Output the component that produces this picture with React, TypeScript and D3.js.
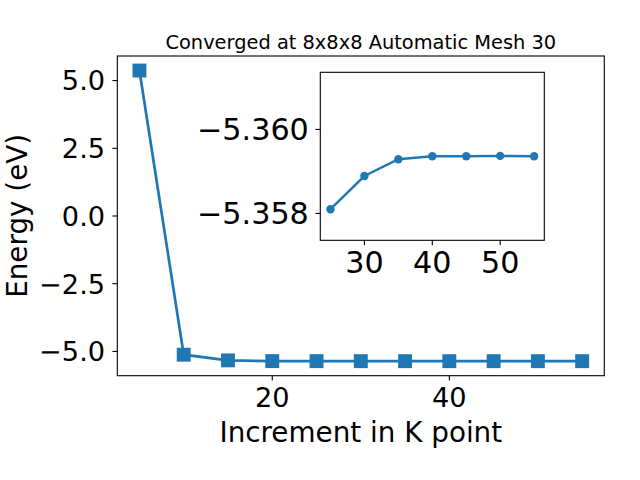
import React from "react";
import * as d3 from "d3";

const kPoints = [5, 10, 15, 20, 25, 30, 35, 40, 45, 50, 55];
const energies = [5.37, -5.12, -5.33, -5.3575, -5.3581, -5.35889, -5.35929, -5.35936, -5.35936, -5.35937, -5.35936];
const insetK = [25, 30, 35, 40, 45, 50, 55];
const insetE = [-5.3581, -5.35889, -5.35929, -5.35936, -5.35936, -5.35937, -5.35936];
const mainXTicks = [20, 40];
const mainYTicks = [5.0, 2.5, 0.0, -2.5, -5.0];
const insetXTicks = [30, 40, 50];
const insetYTicks = [-5.36, -5.358];
const insetYLim = [-5.35736, -5.36136];

const W = 640, H = 480;
const C = "#1f77b4";
const FONT = "DejaVu Sans";
const fmtMinus = (s: string) => s.replace("-", "\u2212");

export default function App() {
  const L = 117.3, R = 604.3, T = 56, B = 375.7;
  const x = d3.scaleLinear().domain([2.5, 57.5]).range([L, R]);
  const ext = d3.extent(energies) as [number, number];
  const m = (ext[1] - ext[0]) * 0.05;
  const y = d3.scaleLinear().domain([ext[0] - m, ext[1] + m]).range([B, T]);
  const line = d3.line<number>().x((_, i) => x(kPoints[i])).y((d) => y(d));

  const iL = 320.3, iR = 544.3, iT = 72.3, iB = 240.3;
  const ix = d3.scaleLinear().domain([23.5, 56.5]).range([iL, iR]);
  const iy = d3.scaleLinear().domain(insetYLim).range([iB, iT]);
  const iline = d3.line<number>().x((_, i) => ix(insetK[i])).y((d) => iy(d));

  const ms = 13.9;
  const tickFs = 27.2;
  const insetFs = 30.2;
  return (
    <svg width={W} height={H} style={{ position: "absolute", left: 0, top: 0 }} fontFamily={FONT}>
      <rect width={W} height={H} fill="white" />
      <text x={(L + R) / 2} y={49} textAnchor="middle" fontSize={19.4}>Converged at 8x8x8 Automatic Mesh 30</text>
      <path d={line(energies) || ""} fill="none" stroke={C} strokeWidth={2.7} />
      {energies.map((e, i) => (
        <rect key={i} x={x(kPoints[i]) - ms / 2} y={y(e) - ms / 2} width={ms} height={ms} fill={C} />
      ))}
      <rect x={L} y={T} width={R - L} height={B - T} fill="none" stroke="black" strokeWidth={1.1} />
      {mainXTicks.map((t) => (
        <g key={t}>
          <line x1={x(t)} x2={x(t)} y1={B} y2={B + 4.9} stroke="black" strokeWidth={1.1} />
          <text x={x(t)} y={407} textAnchor="middle" fontSize={tickFs}>{t}</text>
        </g>
      ))}
      {mainYTicks.map((t) => (
        <g key={t}>
          <line x1={L - 4.9} x2={L} y1={y(t)} y2={y(t)} stroke="black" strokeWidth={1.1} />
          <text x={L - 12.2} y={y(t)} dy="0.36em" textAnchor="end" fontSize={tickFs}>{fmtMinus(t.toFixed(1))}</text>
        </g>
      ))}
      <text x={(L + R) / 2} y={441.5} textAnchor="middle" fontSize={27.8}>Increment in K point</text>
      <text transform={`translate(26.5,${(T + B) / 2}) rotate(-90)`} textAnchor="middle" fontSize={27.8}>Energy (eV)</text>

      <rect x={iL} y={iT} width={iR - iL} height={iB - iT} fill="white" />
      <path d={iline(insetE) || ""} fill="none" stroke={C} strokeWidth={2.4} />
      {insetE.map((e, i) => (
        <circle key={i} cx={ix(insetK[i])} cy={iy(e)} r={4.2} fill={C} />
      ))}
      <rect x={iL} y={iT} width={iR - iL} height={iB - iT} fill="none" stroke="black" strokeWidth={1.1} />
      {insetXTicks.map((t) => (
        <g key={t}>
          <line x1={ix(t)} x2={ix(t)} y1={iB} y2={iB + 4.9} stroke="black" strokeWidth={1.1} />
          <text x={ix(t)} y={272.7} textAnchor="middle" fontSize={insetFs}>{t}</text>
        </g>
      ))}
      {insetYTicks.map((t) => (
        <g key={t}>
          <line x1={iL - 4.9} x2={iL} y1={iy(t)} y2={iy(t)} stroke="black" strokeWidth={1.1} />
          <text x={iL - 11.5} y={iy(t)} dy="0.36em" textAnchor="end" fontSize={insetFs}>{fmtMinus(t.toFixed(3))}</text>
        </g>
      ))}
    </svg>
  );
}
